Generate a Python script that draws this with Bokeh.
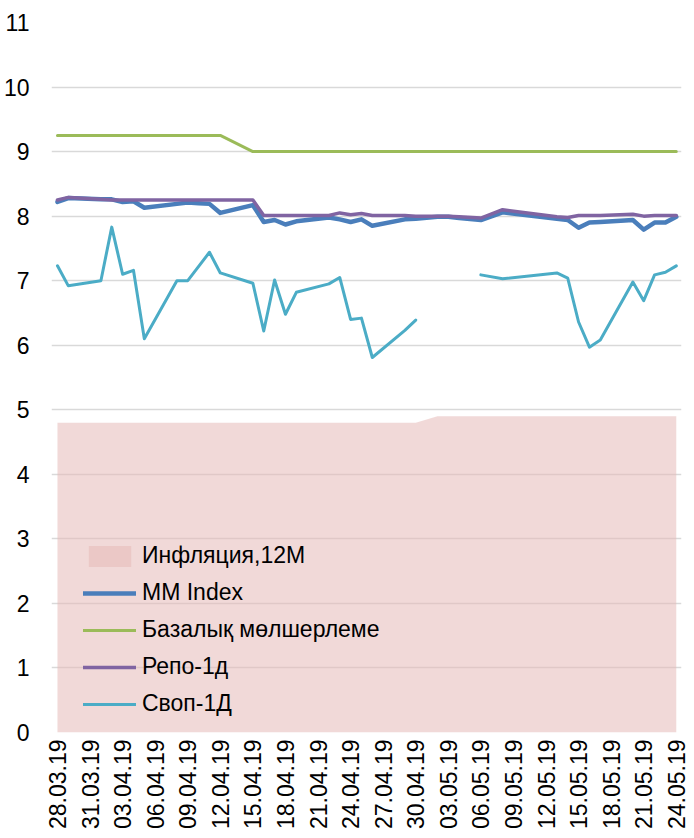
import pandas as pd
from math import pi
from bokeh.plotting import figure
from bokeh.models import (ColumnDataSource, FixedTicker, Range1d, Legend, LegendItem,
                          DatetimeTickFormatter)
from bokeh.embed import file_html
from bokeh.resources import INLINE

# ---------------- data ----------------
tick_labels = ["28.03.19", "31.03.19", "03.04.19", "06.04.19", "09.04.19", "12.04.19",
               "15.04.19", "18.04.19", "21.04.19", "24.04.19", "27.04.19", "30.04.19",
               "03.05.19", "06.05.19", "09.05.19", "12.05.19", "15.05.19", "18.05.19",
               "21.05.19", "24.05.19"]

infl_dates = ["28.03.19", "30.04.19", "02.05.19", "24.05.19"]
infl_vals = [4.8, 4.8, 4.9, 4.9]

base_dates = ["28.03.19", "12.04.19", "15.04.19", "24.05.19"]
base_vals = [9.25, 9.25, 9.0, 9.0]

mm_dates = ["28.03.19", "29.03.19", "01.04.19", "02.04.19", "03.04.19", "04.04.19", "05.04.19",
            "08.04.19", "09.04.19", "10.04.19", "11.04.19", "12.04.19", "15.04.19", "16.04.19",
            "17.04.19", "18.04.19", "19.04.19", "22.04.19", "23.04.19", "24.04.19", "25.04.19",
            "26.04.19", "29.04.19", "30.04.19", "02.05.19", "03.05.19", "04.05.19", "06.05.19",
            "08.05.19", "13.05.19", "14.05.19", "15.05.19", "16.05.19", "17.05.19", "20.05.19",
            "21.05.19", "22.05.19", "23.05.19", "24.05.19"]
mm_vals = [8.22, 8.28, 8.26, 8.26, 8.22, 8.23, 8.13,
           8.19, 8.21, 8.20, 8.19, 8.05, 8.17, 7.91,
           7.94, 7.87, 7.92, 7.98, 7.95, 7.91, 7.95,
           7.85, 7.95, 7.96, 7.99, 7.99, 7.97, 7.94,
           8.06, 7.96, 7.94, 7.82, 7.90, 7.91, 7.94,
           7.79, 7.90, 7.90, 7.99]
repo_vals = [8.25, 8.29, 8.26, 8.25, 8.25, 8.25, 8.25,
             8.25, 8.25, 8.25, 8.25, 8.25, 8.25, 8.01,
             8.01, 8.01, 8.01, 8.01, 8.05, 8.02, 8.04,
             8.01, 8.01, 8.00, 8.00, 8.00, 7.99, 7.97,
             8.10, 7.99, 7.98, 8.01, 8.01, 8.01, 8.03,
             8.00, 8.01, 8.01, 8.01]

swap_dates = ["28.03.19", "29.03.19", "01.04.19", "02.04.19", "03.04.19", "04.04.19", "05.04.19",
              "08.04.19", "09.04.19", "11.04.19", "12.04.19", "15.04.19", "16.04.19",
              "17.04.19", "18.04.19", "19.04.19", "22.04.19", "23.04.19", "24.04.19", "25.04.19",
              "26.04.19", "29.04.19", "30.04.19", "03.05.19", "06.05.19",
              "08.05.19", "13.05.19", "14.05.19", "15.05.19", "16.05.19", "17.05.19", "20.05.19",
              "21.05.19", "22.05.19", "23.05.19", "24.05.19"]
swap_vals = [7.23, 6.92, 7.00, 7.83, 7.10, 7.16, 6.10,
             7.00, 7.00, 7.44, 7.12, 6.96, 6.22,
             7.01, 6.48, 6.82, 6.95, 7.05, 6.40, 6.42,
             5.81, 6.23, 6.39, float("nan"), 7.09,
             7.03, 7.12, 7.04, 6.36, 5.97, 6.08, 6.98,
             6.69, 7.09, 7.13, 7.23]

series_names = ["Инфляция,12М", "MM Index", "Базалық мөлшерлеме", "Репо-1д", "Своп-1Д"]
y_ticks = list(range(0, 12))


def to_dt(lst):
    return pd.to_datetime(lst, format="%d.%m.%y")


ticks_dt = to_dt(tick_labels)
ticks_ms = [t.value / 1e6 for t in ticks_dt]
day = pd.Timedelta(days=1)

FONT = "Liberation Sans"

p = figure(frame_width=630, frame_height=710, x_axis_type="datetime",
           x_range=Range1d(ticks_dt[0] - 0.55 * day, ticks_dt[-1] + 0.48 * day),
           y_range=Range1d(0, 11),
           output_backend="svg", toolbar_location=None,
           min_border_left=50, min_border_right=10, min_border_top=22, min_border_bottom=0)
p.outline_line_color = None
p.background_fill_color = "white"

# axes
p.yaxis.ticker = FixedTicker(ticks=y_ticks)
p.yaxis.axis_line_color = None
p.yaxis.major_tick_line_color = None
p.yaxis.minor_tick_line_color = None
p.yaxis.major_tick_out = 0
p.yaxis.major_tick_in = 0
p.yaxis.major_label_standoff = 22
p.yaxis.major_label_text_font = FONT
p.yaxis.major_label_text_font_size = "23px"
p.yaxis.major_label_text_color = "black"

p.xaxis.ticker = FixedTicker(ticks=ticks_ms)
fmt = "%d.%m.%y"
p.xaxis.formatter = DatetimeTickFormatter(days=fmt, months=fmt, years=fmt, hours=fmt,
                                          hourmin=fmt, minutes=fmt, minsec=fmt, seconds=fmt,
                                          milliseconds=fmt, microseconds=fmt)
p.xaxis.major_label_orientation = pi / 2
p.xaxis.axis_line_color = None
p.xaxis.major_tick_line_color = None
p.xaxis.minor_tick_line_color = None
p.xaxis.major_tick_out = 0
p.xaxis.major_tick_in = 0
p.xaxis.major_label_standoff = 7
p.xaxis.major_label_text_font = FONT
p.xaxis.major_label_text_font_size = "23px"
p.xaxis.major_label_text_color = "black"

p.xgrid.visible = False
p.ygrid.ticker = FixedTicker(ticks=y_ticks)
p.ygrid.grid_line_color = "#d9d9d9"
p.ygrid.grid_line_width = 1.5

# glyphs
infl_src = ColumnDataSource(dict(x=to_dt(infl_dates), y=infl_vals))
r_infl = p.varea(x="x", y1=0, y2="y", source=infl_src, fill_color="#e6b9b8", fill_alpha=0.55)

mm_src = ColumnDataSource(dict(x=to_dt(mm_dates), mm=mm_vals, repo=repo_vals))
r_mm = p.line("x", "mm", source=mm_src, line_color="#4a7ebb", line_width=4.5,
              line_join="round", line_cap="round")

base_src = ColumnDataSource(dict(x=to_dt(base_dates), y=base_vals))
r_base = p.line("x", "y", source=base_src, line_color="#9bbb59", line_width=3,
                line_join="round", line_cap="round")

r_repo = p.line("x", "repo", source=mm_src, line_color="#8064a2", line_width=3.5,
                line_join="round", line_cap="round")

swap_src = ColumnDataSource(dict(x=to_dt(swap_dates), y=swap_vals))
r_swap = p.line("x", "y", source=swap_src, line_color="#4bacc6", line_width=3,
                line_join="round", line_cap="round")

legend = Legend(items=[LegendItem(label=series_names[0], renderers=[r_infl]),
                       LegendItem(label=series_names[1], renderers=[r_mm]),
                       LegendItem(label=series_names[2], renderers=[r_base]),
                       LegendItem(label=series_names[3], renderers=[r_repo]),
                       LegendItem(label=series_names[4], renderers=[r_swap])],
                location=(32, 15), orientation="vertical",
                padding=0, margin=0, spacing=10,
                glyph_width=53, glyph_height=26, label_height=26, label_standoff=6,
                label_text_font=FONT, label_text_font_size="23px",
                label_text_color="black",
                border_line_color=None, background_fill_alpha=0)
p.add_layout(legend)

open("out.html", "w").write(file_html(p, INLINE))
